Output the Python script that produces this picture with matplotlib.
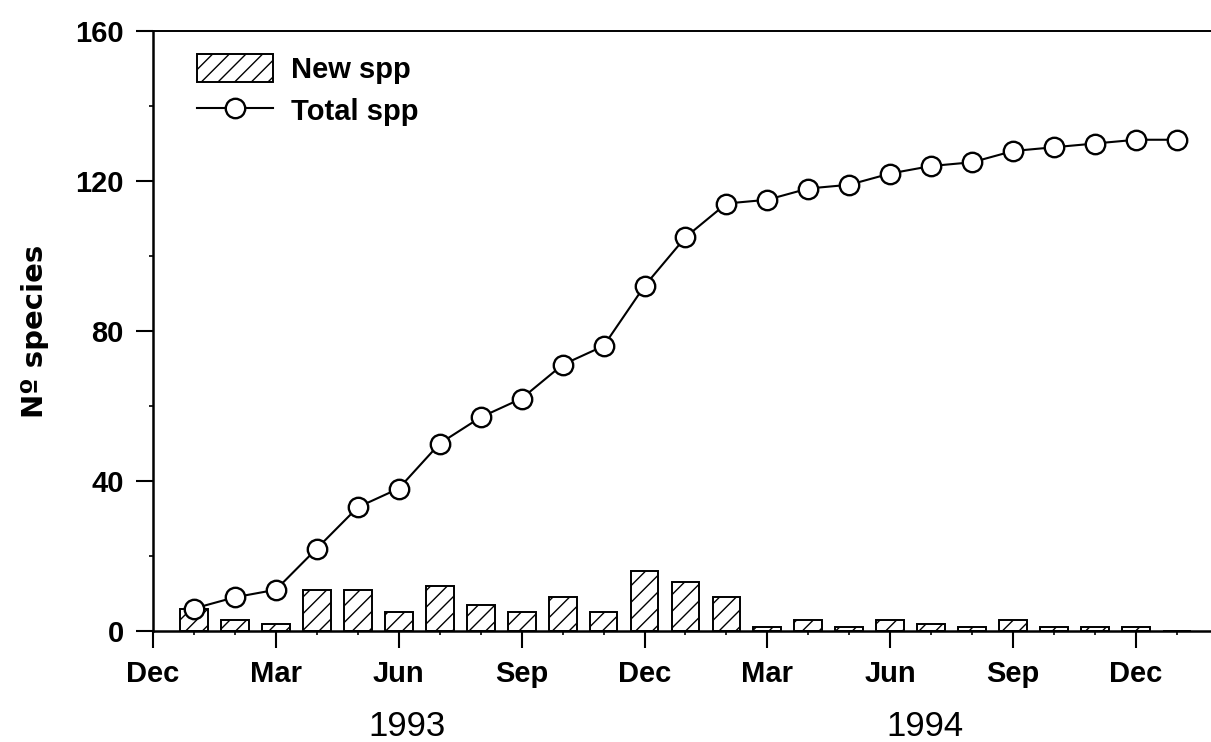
import numpy as np
import matplotlib.pyplot as plt
from matplotlib.ticker import MultipleLocator

# monthly samples, Jan 1993 (month 1) .. Jan 1995 (month 25); month 0 = Dec 1992
months = np.arange(1, 26)
new_spp = [6, 3, 2, 11, 11, 5, 12, 7, 5, 9, 5, 16, 13, 9,
           1, 3, 1, 3, 2, 1, 3, 1, 1, 1, 0]
total_spp = [6, 9, 11, 22, 33, 38, 50, 57, 62, 71, 76, 92, 105, 114,
             115, 118, 119, 122, 124, 125, 128, 129, 130, 131, 131]
tick_labels = ['Dec', 'Mar', 'Jun', 'Sep', 'Dec', 'Mar', 'Jun', 'Sep', 'Dec']
years = ['1993', '1994']

plt.rcParams['font.family'] = ['Liberation Sans', 'DejaVu Sans']
plt.rcParams['hatch.linewidth'] = 1.0

W, H = 1211, 742
fig = plt.figure(figsize=(W / 100, H / 100), dpi=100)
ax = fig.add_axes([153 / W, (H - 631) / H, (W - 153) / W, 600 / H])

bars = ax.bar(months, new_spp, width=0.68, facecolor='white', edgecolor='black',
              hatch='//', linewidth=1.4, label='New spp', zorder=2)
line, = ax.plot(months, total_spp, '-o', color='black', lw=1.5, ms=14,
                mfc='white', mec='black', mew=1.7, label='Total spp', zorder=3)

ax.set_xlim(0, (W - 153) / 40.96)
ax.set_ylim(0, 160)

ax.set_xticks(np.arange(0, 25, 3))
ax.set_xticklabels(tick_labels)
ax.xaxis.set_minor_locator(MultipleLocator(1))
ax.yaxis.set_major_locator(MultipleLocator(40))
ax.yaxis.set_minor_locator(MultipleLocator(20))

ax.tick_params(which='major', direction='out', length=12, width=1.5,
               labelsize=21, pad=9)
ax.tick_params(which='minor', direction='out', length=3, width=1.2)
for lab in ax.get_xticklabels() + ax.get_yticklabels():
    lab.set_fontweight('bold')

ax.spines['right'].set_visible(False)
ax.spines['left'].set_linewidth(1.8)
ax.spines['bottom'].set_linewidth(1.8)
ax.spines['top'].set_linewidth(1.4)

ax.set_ylabel('Nº species', fontsize=21, fontweight='bold', labelpad=19,
              family='DejaVu Sans')

# year labels under the month labels
ax.text(6.2, -0.175, years[0], transform=ax.get_xaxis_transform(),
        ha='center', va='baseline', fontsize=25)
ax.text(18.85, -0.175, years[1], transform=ax.get_xaxis_transform(),
        ha='center', va='baseline', fontsize=25)

ax.legend([bars, line], ['New spp', 'Total spp'], loc='upper left',
          bbox_to_anchor=(0.017, 1.005), frameon=False,
          prop={'size': 21, 'weight': 'bold'}, handlelength=2.6,
          handleheight=1.1, handletextpad=0.6, labelspacing=0.42)

fig.savefig('out.png', dpi=100)
